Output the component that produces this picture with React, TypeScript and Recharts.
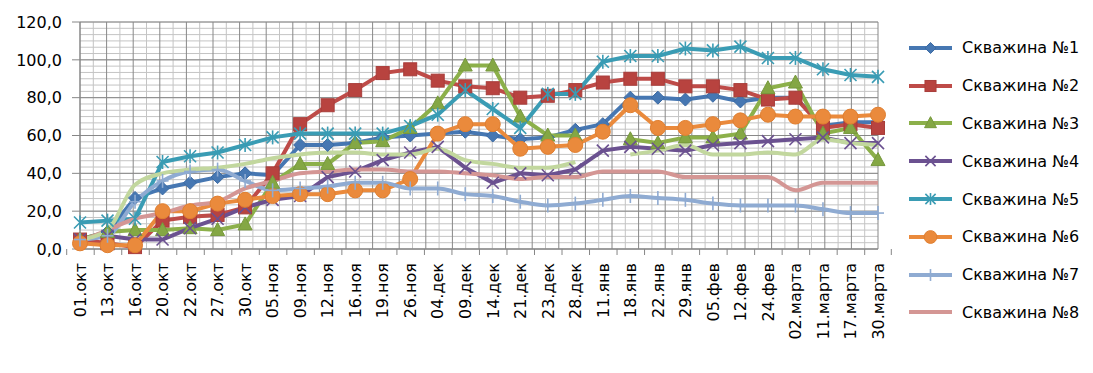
import React from "react";
import { LineChart, Line, XAxis, YAxis, CartesianGrid } from "recharts";

const categories = [
  "01.окт", "13.окт", "16.окт", "20.окт", "22.окт", "27.окт", "30.окт", "05.ноя", "09.ноя", "12.ноя",
  "16.ноя", "19.ноя", "26.ноя", "04.дек", "09.дек", "14.дек", "21.дек", "23.дек", "28.дек", "11.янв",
  "18.янв", "22.янв", "29.янв", "05.фев", "12.фев", "24.фев", "02.марта", "11.марта", "17.марта", "30.марта",
];

const well1 = [5, 9, 27, 32, 35, 38, 40, 39, 55, 55, 56, 59, 60, 61, 62, 60, 58, 59, 63, 66, 80, 80, 79, 81, 78, 80, 80, 65, 67, 67];
const well2 = [5, 3, 1, 15, 17, 18, 22, 40, 66, 76, 84, 93, 95, 89, 86, 85, 80, 81, 84, 88, 90, 90, 86, 86, 84, 79, 80, 64, 66, 64];
const well3 = [5, 9, 10, 10, 11, 10, 13, 35, 45, 45, 56, 57, 64, 77, 97, 97, 70, 60, 60, null, 58, 56, 59, 59, 61, 85, 88, 61, 64, 47];
const well4 = [5, 7, 5, 5, 11, 16, 22, 26, 28, 38, 41, 47, 51, 54, 43, 35, 40, 39, 42, 52, 54, 53, 52, 55, 56, 57, 58, 59, 56, 56];
const well5 = [14, 15, 16, 46, 49, 51, 55, 59, 61, 61, 61, 61, 65, 71, 84, 74, 64, 82, 82, 99, 102, 102, 106, 105, 107, 101, 101, 95, 92, 91];
const well6 = [3, 2, 2, 20, 20, 24, 26, 28, 29, 29, 31, 31, 37, 61, 66, 66, 53, 54, 55, 62, 76, 64, 64, 66, 68, 71, 70, 70, 70, 71];
const well7 = [5, 7, 25, 36, 41, 42, 36, 31, 32, 33, 35, 35, 32, 32, 29, 28, 25, 23, 24, 26, 28, 27, 26, 24, 23, 23, 23, 21, 19, 19];
const well8 = [4, 10, 16, 19, 23, 25, 32, 36, 40, 41, 42, 42, 41, 41, 40, 39, 37, 38, 38, 41, 41, 41, 38, 38, 38, 38, 31, 35, 35, 35];
const well9 = [5, 10, 34, 40, 42, 43, 45, 48, 50, 51, 51, 50, 50, 53, 47, 45, 43, 43, 46, null, 50, 52, 55, 50, 50, 51, 50, 58, 56, 55];

const yTicks = [0, 20, 40, 60, 80, 100, 120];

const series = [
  { key: "w1", name: "Скважина №1", values: well1, color: "#4677b2", mark: "diamond", curve: "linear", legend: true },
  { key: "w2", name: "Скважина №2", values: well2, color: "#be4b48", mark: "square", curve: "linear", legend: true },
  { key: "w3", name: "Скважина №3", values: well3, color: "#8cb04a", mark: "triangle", curve: "linear", legend: true },
  { key: "w4", name: "Скважина №4", values: well4, color: "#6b5190", mark: "x", curve: "linear", legend: true },
  { key: "w5", name: "Скважина №5", values: well5, color: "#3a9cb4", mark: "star", curve: "linear", legend: true },
  { key: "w6", name: "Скважина №6", values: well6, color: "#ea8a3c", mark: "circle", curve: "linear", legend: true },
  { key: "w7", name: "Скважина №7", values: well7, color: "#8fabd2", mark: "plus", curve: "monotone", legend: true },
  { key: "w8", name: "Скважина №8", values: well8, color: "#d49694", mark: "none", curve: "monotone", legend: true },
  { key: "w9", name: "Скважина №9", values: well9, color: "#c2d79e", mark: "none", curve: "monotone", legend: false },
];

const data = categories.map((cat, i) => {
  const row: Record<string, string | number | null> = { cat };
  series.forEach((s) => (row[s.key] = s.values[i]));
  return row;
});

const FONT = "'DejaVu Sans', sans-serif";
const W = 1093;
const H = 373;
const PLOT_LEFT = 80;
const PLOT_RIGHT = 878;
const BAND = (PLOT_RIGHT - PLOT_LEFT) / categories.length;

function Marker({ cx, cy, mark, color, scale = 1 }: any) {
  if (cx == null || cy == null || Number.isNaN(cy)) return <g />;
  const s = scale;
  switch (mark) {
    case "diamond":
      return <polygon points={`${cx},${cy - 6.5 * s} ${cx + 6.5 * s},${cy} ${cx},${cy + 6.5 * s} ${cx - 6.5 * s},${cy}`} fill={color} stroke="#3b6aa3" strokeWidth={1} />;
    case "square":
      return <rect x={cx - 6.5 * s} y={cy - 6.5 * s} width={13 * s} height={13 * s} fill="#b8433f" stroke="#a83d3a" strokeWidth={1} />;
    case "triangle":
      return <polygon points={`${cx},${cy - 7.5 * s} ${cx + 7 * s},${cy + 5.5 * s} ${cx - 7 * s},${cy + 5.5 * s}`} fill="#84a744" stroke="#76983c" strokeWidth={1} />;
    case "x":
      return (
        <g stroke={color} strokeWidth={1.6}>
          <line x1={cx - 6 * s} y1={cy - 6 * s} x2={cx + 6 * s} y2={cy + 6 * s} />
          <line x1={cx - 6 * s} y1={cy + 6 * s} x2={cx + 6 * s} y2={cy - 6 * s} />
        </g>
      );
    case "star":
      return (
        <g stroke={color} strokeWidth={1.6}>
          <line x1={cx - 6 * s} y1={cy - 6 * s} x2={cx + 6 * s} y2={cy + 6 * s} />
          <line x1={cx - 6 * s} y1={cy + 6 * s} x2={cx + 6 * s} y2={cy - 6 * s} />
          <line x1={cx} y1={cy - 7 * s} x2={cx} y2={cy + 7 * s} />
        </g>
      );
    case "circle":
      return <circle cx={cx} cy={cy} r={7.5 * s} fill={color} stroke="#e07f30" strokeWidth={1} />;
    case "plus":
      return (
        <g stroke={color} strokeWidth={1.6}>
          <line x1={cx} y1={cy - 7 * s} x2={cx} y2={cy + 7 * s} />
          <line x1={cx - 6 * s} y1={cy} x2={cx + 6 * s} y2={cy} />
        </g>
      );
    default:
      return <g />;
  }
}

function XTick({ x, y, payload, index }: any) {
  const last = index === categories.length - 1;
  return (
    <g>
      <line x1={x - BAND / 2} y1={y} x2={x - BAND / 2} y2={y + 6} stroke="#868686" />
      {last && <line x1={x + BAND / 2} y1={y} x2={x + BAND / 2} y2={y + 6} stroke="#868686" />}
      <text
        x={x}
        y={y + 14}
        transform={`rotate(-90, ${x}, ${y + 14})`}
        textAnchor="end"
        dy="0.36em"
        fontSize={16}
        fontFamily={FONT}
        fill="#000"
      >
        {payload.value}
      </text>
    </g>
  );
}

const fmt = (v: number) => v.toFixed(1).replace(".", ",");

function ChartLegend() {
  return (
    <div style={{ position: "absolute", left: 905, top: 29 }}>
      {series
        .filter((s) => s.legend)
        .map((s) => (
          <div key={s.key} style={{ display: "flex", alignItems: "center", height: 37.8 }}>
            <svg width={50} height={20}>
              <line x1={4} y1={10} x2={47} y2={10} stroke={s.color} strokeWidth={4} />
              <Marker cx={25.5} cy={10} mark={s.mark} color={s.color} scale={0.85} />
            </svg>
            <span style={{ marginLeft: 7, fontFamily: FONT, fontSize: 16, color: "#000", whiteSpace: "pre" }}>{s.name}</span>
          </div>
        ))}
    </div>
  );
}

export default function App() {
  return (
    <div style={{ position: "absolute", left: 0, top: 0, width: W, height: H, background: "#fff" }}>
      <LineChart width={W} height={H} data={data} margin={{ top: 22, right: W - PLOT_RIGHT, bottom: 0, left: 0 }}>
        <CartesianGrid
          stroke="#c4c4c4"
          strokeWidth={1}
          horizontalCoordinatesGenerator={({ offset }: any) =>
            Array.from({ length: 37 }, (_, k) => offset.top + (offset.height * k) / 36)
          }
          verticalCoordinatesGenerator={({ offset }: any) =>
            categories.map((_, k) => offset.left + (offset.width * (k + 0.5)) / categories.length)
          }
        />
        <CartesianGrid
          stroke="#888888"
          strokeWidth={1}
          horizontalCoordinatesGenerator={({ offset }: any) =>
            yTicks.map((_, k) => offset.top + (offset.height * k) / (yTicks.length - 1))
          }
          verticalCoordinatesGenerator={({ offset }: any) =>
            Array.from({ length: categories.length + 1 }, (_, k) => offset.left + (offset.width * k) / categories.length)
          }
        />
        <XAxis
          dataKey="cat"
          interval={0}
          height={124}
          tickSize={0}
          tickMargin={0}
          tickLine={false}
          axisLine={{ stroke: "#868686" }}
          tick={<XTick />}
        />
        <YAxis
          width={80}
          domain={[0, 120]}
          ticks={yTicks}
          tickFormatter={fmt}
          tickSize={8}
          tickMargin={10}
          tickLine={{ stroke: "#868686" }}
          axisLine={{ stroke: "#868686" }}
          tick={{ fill: "#000", fontSize: 16, fontFamily: FONT }}
        />
        {series.map((s) => (
          <Line
            key={s.key}
            dataKey={s.key}
            name={s.name}
            type={s.curve as any}
            stroke={s.color}
            strokeWidth={4}
            connectNulls={false}
            dot={(p: any) => <Marker key={`${s.key}-${p.index}`} cx={p.cx} cy={p.cy} mark={s.mark} color={s.color} />}
            activeDot={false}
            isAnimationActive={false}
          />
        ))}
      </LineChart>
      <ChartLegend />
    </div>
  );
}
